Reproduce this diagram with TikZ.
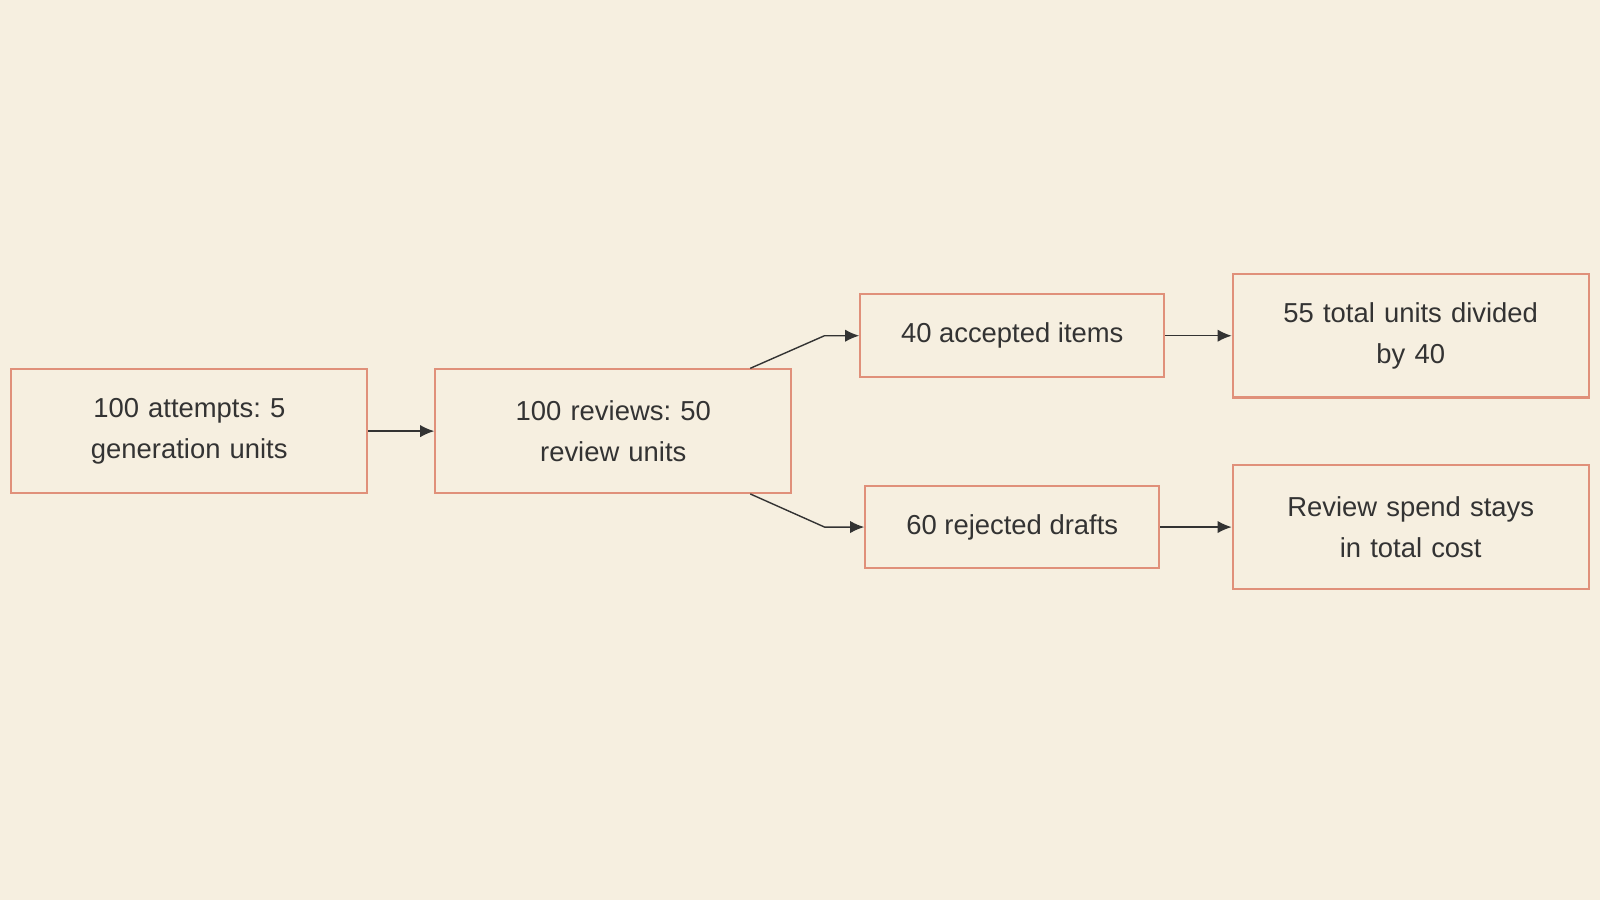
\documentclass[tikz,border=0pt]{standalone}
\usepackage{fontspec}
\setmainfont{Liberation Sans}
\usetikzlibrary{positioning, arrows.meta}
\definecolor{paper}{HTML}{F6EFE0}
\definecolor{edgeline}{HTML}{E0907A}
\definecolor{ink}{HTML}{333333}

\begin{document}
\frenchspacing
\begin{tikzpicture}[x=1.0204cm, y=1.0204cm, font=\fontsize{7.8pt}{11.6pt}\selectfont,
        stage/.style={draw=edgeline, line width=0.6pt, fill=paper, text=ink,
            minimum height=1.235cm, align=center, inner sep=0pt},
        wide/.style={stage, minimum width=3.56cm, text width=3.3cm},
        slim/.style={stage, minimum height=0.826cm},
        flow/.style={draw=ink, line width=0.4pt, -{Latex[length=4pt,width=3.5pt]}}]
        \fill[paper] (0,0) rectangle (15.68,8.82);
        \useasboundingbox (0,0) rectangle (15.68,8.82);

        \node[wide] (attempts) at (1.855,4.595) {100 attempts: 5\\generation units};
        \node[wide] (reviews) at (6.01,4.595) {100 reviews: 50\\review units};
        \node[slim, minimum width=3.04cm] (accepted) at (9.92,5.53) {40 accepted items};
        \node[slim, minimum width=2.94cm] (rejected) at (9.92,3.655) {60 rejected drafts};
        \node[wide] (total) at (13.825,5.53) {55 total units divided\\by 40};
        \node[wide] (spend) at (13.825,3.655) {Review spend stays\\in total cost};

        \coordinate (upbend) at (8.08,5.53);
        \coordinate (downbend) at (8.08,3.655);

        \draw[flow] (attempts) -- (reviews);
        \draw[flow] ([xshift=1.37cm]reviews.north) -- (upbend) -- (accepted);
        \draw[flow] ([xshift=1.37cm]reviews.south) -- (downbend) -- (rejected);
        \draw[flow] (accepted) -- (total);
        \draw[flow] (rejected) -- (spend);
    \end{tikzpicture}
\end{document}
